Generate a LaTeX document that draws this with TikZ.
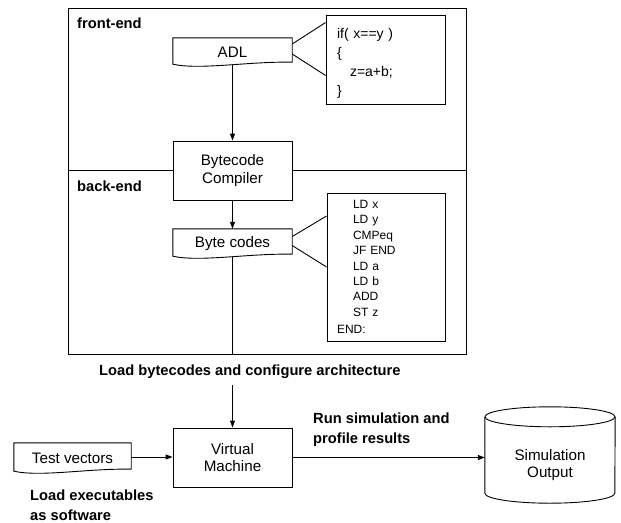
\documentclass[tikz,border=0pt]{standalone}
\usepackage{fontspec}
\setmainfont{Liberation Sans}
\usetikzlibrary{arrows.meta}
\newcommand\docpath[1]{%
  \draw[ln] (#1.north west) -- (#1.north east) -- ([yshift=4pt]#1.south east)
    .. controls ([xshift=-42pt,yshift=5pt]#1.south east) and ([xshift=27pt,yshift=-4pt]#1.south west)
    .. ([yshift=2pt]#1.south west) -- cycle;}
\begin{document}
\begin{tikzpicture}[x=1pt,y=-1pt,
  ln/.style={line width=0.9pt},
  arr/.style={ln,-{Triangle[length=7pt,width=5pt]}},
  box/.style={draw, ln, fill=white, minimum width=119pt, align=center, inner sep=0pt, font=\fontsize{15.2}{18.5}\selectfont},
  doc/.style={minimum width=119pt, minimum height=28pt, inner sep=0pt, font=\fontsize{15.2}{18}\selectfont},
  codebox/.style={draw, ln, fill=white, align=left, inner ysep=0pt},
  lbl/.style={font=\bfseries\fontsize{14.7}{20}\selectfont, align=left, inner sep=0pt}
]
\useasboundingbox (0,0) rectangle (621,522);

% frame
\node[draw, ln, minimum width=398pt, minimum height=346pt, inner sep=0pt] (frame) at (267,181) {};

\node[lbl, anchor=west] (fe) at (77,23) {front-end};
\node[lbl, anchor=west] (be) at (77,186) {back-end};

\node[doc] (adl) at (232.5,52) {ADL};
\docpath{adl}
\node[box, minimum height=59pt] (comp) at (232.5,170.5) {Bytecode\\Compiler};
\node[doc, minimum height=29pt] (bc) at (232.5,243.5) {Byte codes};
\docpath{bc}

\draw[ln] (frame.west |- comp) -- (comp.west);
\draw[ln] (comp.east) -- (frame.east |- comp);

\node[codebox, minimum width=119pt, minimum height=89pt, text width=97pt, inner xsep=11pt,
  font=\fontsize{14}{19}\selectfont] (code1) at (385.5,59.5)
  {\rule{0pt}{17pt}if( x==y )\\ \{\\ \hspace*{13pt}z=a+b;\\ \}};

\node[codebox, minimum width=118pt, minimum height=148pt, text width=98pt, inner xsep=10pt,
  font=\fontsize{12}{15.4}\selectfont] (code2) at (386,267)
  {\hspace*{16pt}LD x\\ \hspace*{16pt}LD y\\ \hspace*{16pt}CMPeq\\ \hspace*{16pt}JF END\\ \hspace*{16pt}LD a\\ \hspace*{16pt}LD b\\ \hspace*{16pt}ADD\\ \hspace*{16pt}ST z\\[2pt] END:};

\draw[ln] ([yshift=8pt]adl.east) -- ([yshift=-8pt]code1.north west);
\draw[ln] ([yshift=-2pt]adl.east) -- ([yshift=29pt]code1.south west);
\draw[ln] ([yshift=7pt]bc.east) -- ([yshift=51pt]code2.west);
\draw[ln] ([yshift=-2pt]bc.east) -- (code2.west);

\draw[arr] ([yshift=1pt]adl.south) -- (comp.north);
\draw[arr] (comp.south) -- (bc.north);
\draw[ln] ([yshift=1pt]bc.south) -- (bc.south |- frame.south);

\node[lbl, anchor=west] (lb) at (99,372) {Load bytecodes and configure architecture};

\node[box, minimum height=59pt, font=\fontsize{15.2}{17}\selectfont] (vm) at (232.5,457.5) {Virtual\\Machine};
\draw[arr] (vm.north |- 0,385) coordinate (lbs) -- (vm.north);

\node[doc, minimum width=117pt, minimum height=30pt] (tv) at (72.5,458) {Test vectors};
\docpath{tv}
\draw[arr] ([yshift=1pt]tv.east) -- ([yshift=1pt]tv.east -| vm.west);

\node[lbl, anchor=west] (le) at (30,505) {Load executables\\as software};
\node[lbl, anchor=west] (rs) at (313,430) {Run simulation and\\profile results};

% cylinder
\node[minimum width=130pt, minimum height=76pt, inner sep=0pt, align=center, font=\fontsize{15.2}{17}\selectfont] (cyl) at (550,465) {Simulation\\Output};
\draw[ln] ([yshift=10pt]cyl.north west) -- ([yshift=10pt]cyl.south west)
  arc[start angle=180, end angle=360, x radius=65pt, y radius=10pt]
  -- ([yshift=10pt]cyl.north east);
\draw[ln] ([yshift=10pt]cyl.north) ellipse[x radius=65pt, y radius=10pt];

\draw[arr] (vm.east) -- (vm.east -| cyl.west);
\end{tikzpicture}
\end{document}
